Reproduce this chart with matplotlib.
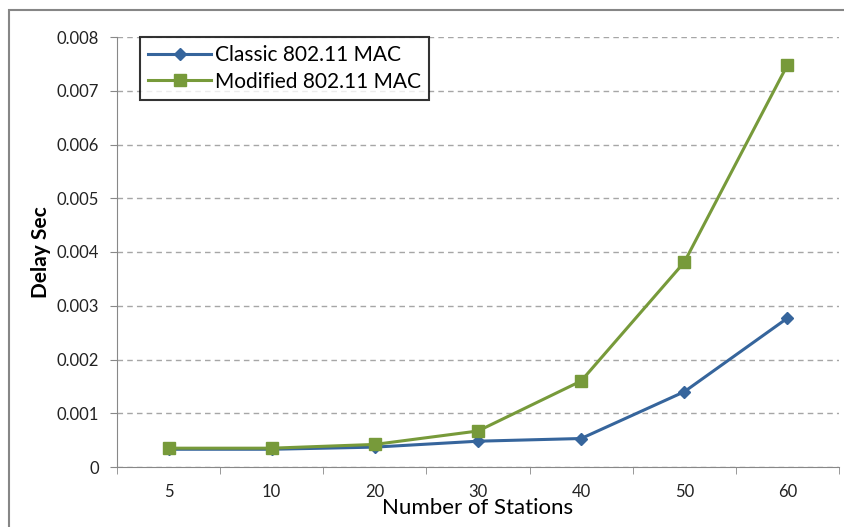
import numpy as np
import matplotlib.pyplot as plt
from matplotlib.patches import Rectangle
from matplotlib.ticker import FixedLocator

# data
stations = ['5', '10', '20', '30', '40', '50', '60']
classic_delay = [0.00033, 0.00033, 0.00037, 0.00048, 0.00053, 0.00140, 0.00277]
modified_delay = [0.00035, 0.00035, 0.00042, 0.00067, 0.00160, 0.00381, 0.00748]
y_ticks = [0, 0.001, 0.002, 0.003, 0.004, 0.005, 0.006, 0.007, 0.008]
y_tick_labels = ['0', '0.001', '0.002', '0.003', '0.004', '0.005', '0.006', '0.007', '0.008']

plt.rcParams['font.family'] = ['Lato', 'DejaVu Sans']

fig = plt.figure(figsize=(8.45, 5.27), dpi=100)
ax = fig.add_axes([117/845, 1 - 467/527, (839 - 117)/845, (467 - 37)/527])

# outer chart border
fig.patches.append(Rectangle((9/845, -0.1), 1.0, 1 - 10/527 + 0.1,
                             transform=fig.transFigure, fill=False,
                             edgecolor='#868686', lw=1.5))

x = np.arange(len(stations))
ax.plot(x, classic_delay, color='#36659c', lw=2.2, marker='D', ms=6,
        label='Classic 802.11 MAC')
ax.plot(x, modified_delay, color='#779a3a', lw=2.2, marker='s', ms=9,
        label='Modified 802.11 MAC')

ax.set_xlim(-0.5, len(stations) - 0.5)
ax.set_ylim(0, 0.008)
ax.xaxis.set_major_locator(FixedLocator(x))
ax.set_xticklabels(stations)
ax.xaxis.set_minor_locator(FixedLocator(np.arange(-0.5, len(stations), 1)))
ax.tick_params(axis='x', which='major', length=0, pad=12, labelsize=12, labelcolor='#222222')
ax.tick_params(axis='x', which='minor', length=5, color='#888888', direction='out')
ax.yaxis.set_major_locator(FixedLocator(y_ticks))
ax.set_yticklabels(y_tick_labels)
ax.tick_params(axis='y', length=5, color='#888888', labelsize=12, labelcolor='#222222', pad=8)

ax.yaxis.grid(True, linestyle=(0, (4, 3)), color='#a6a6a6', lw=1)
ax.set_axisbelow(True)
for s in ['top', 'right']:
    ax.spines[s].set_visible(False)
for s in ['left', 'bottom']:
    ax.spines[s].set_color('#888888')

ax.set_xlabel('Number of Stations', fontsize=16, labelpad=-1)
ax.set_ylabel('Delay Sec', fontsize=15, fontweight='bold', labelpad=4)

leg = ax.legend(loc='upper left', bbox_to_anchor=(0.032, 1.0), fontsize=15,
                frameon=True, fancybox=False, handlelength=3, borderpad=0.4,
                labelspacing=0.3, handletextpad=0.2, borderaxespad=0)
leg.get_frame().set_edgecolor('black')
leg.get_frame().set_linewidth(1.5)

fig.savefig('out.png', dpi=100)
